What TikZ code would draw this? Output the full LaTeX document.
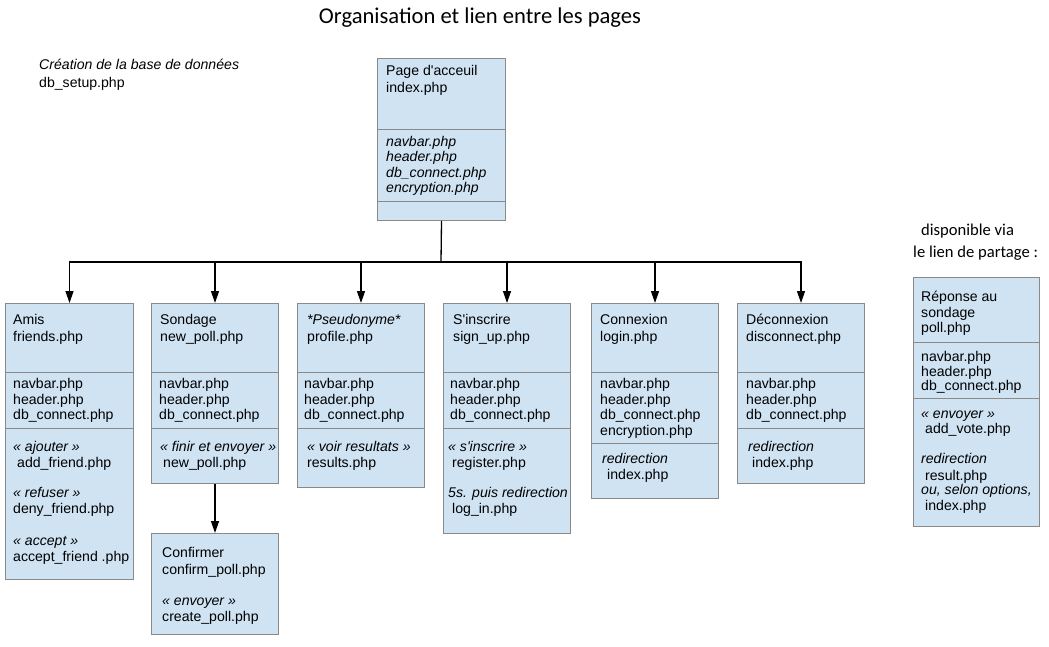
\documentclass[tikz,border=0pt]{standalone}
\usepackage{fontspec}
\setmainfont{Liberation Sans}
\newfontfamily\calib{Carlito}
\usetikzlibrary{arrows.meta}
\definecolor{boxfill}{RGB}{207,227,243}
\definecolor{boxline}{RGB}{138,138,138}
\newcommand\txtline[5][txt]{\node[#1] (#2) at (#3,{#4+5}) {#5};}
\newcommand\apos{\textquotesingle}
\begin{document}
\begin{tikzpicture}[x=1pt,y=-1pt,
 box/.style={draw=boxline, fill=boxfill, line width=1pt, inner sep=0pt, anchor=north west},
 divline/.style={draw=boxline, line width=1pt},
 txt/.style={font=\fontsize{14.1}{15.6}\selectfont, inner sep=0pt, anchor=base west},
 itx/.style={txt, font=\fontsize{14.1}{15.6}\selectfont\itshape},
 conn/.style={line width=1.3pt, black},
 arr/.style={conn, -{Triangle[width=8pt,length=12pt]}}]
\useasboundingbox[fill=white] (0,0) rectangle (1049,647);

% title and free texts
\node[font=\calib\fontsize{22.6}{26}\selectfont, inner sep=0pt] (title) at (480,18) {Organisation et lien entre les pages};
\txtline[itx]{dbc}{39}{65}{Création de la base de données}
\txtline{dbs}{39}{83}{db\_setup.php}
\node[font=\calib\fontsize{16.6}{19}\selectfont, inner sep=0pt, anchor=base west] (dispo1) at (921,235) {disponible via};
\node[font=\calib\fontsize{16.6}{19}\selectfont, inner sep=0pt, anchor=base west] (dispo2) at (913,257) {le lien de partage :};

% boxes
\node[box, minimum width=128pt, minimum height=162pt] (home) at (377,58) {};
\node[box, minimum width=128pt, minimum height=276pt] (amis) at (5,303) {};
\node[box, minimum width=127pt, minimum height=180pt] (sond) at (151,303) {};
\node[box, minimum width=127pt, minimum height=101pt] (conf) at (151,533) {};
\node[box, minimum width=127pt, minimum height=184pt] (pseudo) at (297,303) {};
\node[box, minimum width=127pt, minimum height=230pt] (inscr) at (443,303) {};
\node[box, minimum width=127pt, minimum height=195pt] (connex) at (591,303) {};
\node[box, minimum width=127pt, minimum height=180pt] (deconn) at (737,303) {};
\node[box, minimum width=126pt, minimum height=249pt] (rep) at (913,277) {};

% dividers
\draw[divline] (377,130) -- (505,130);
\draw[divline] (377,202) -- (505,202);
\draw[divline] (5,372) -- (133,372);
\draw[divline] (5,428) -- (133,428);
\draw[divline] (151,372) -- (278,372);
\draw[divline] (151,428) -- (278,428);
\draw[divline] (297,372) -- (424,372);
\draw[divline] (297,428) -- (424,428);
\draw[divline] (443,372) -- (570,372);
\draw[divline] (443,428) -- (570,428);
\draw[divline] (591,372) -- (718,372);
\draw[divline] (591,443) -- (718,443);
\draw[divline] (737,372) -- (864,372);
\draw[divline] (737,428) -- (864,428);
\draw[divline] (913,342) -- (1039,342);
\draw[divline] (913,398) -- (1039,398);

% connectors
\coordinate (hub) at (441,262);
\draw[conn] (home.south) -- (hub);
\draw[arr] (hub) -| (amis.north);
\draw[arr] (hub) -| (sond.north);
\draw[arr] (hub) -| (pseudo.north);
\draw[arr] (hub) -| (inscr.north);
\draw[arr] (hub) -| (connex.north);
\draw[arr] (hub) -| (deconn.north);
\draw[arr] (sond.south) -- (conf.north);

% home texts
\txtline{h1}{386}{71}{Page d\apos acceuil}
\txtline{h2}{386}{88}{index.php}
\txtline[itx]{h3}{386}{142}{navbar.php}
\txtline[itx]{h4}{386}{157}{header.php}
\txtline[itx]{h5}{386}{173}{db\_connect.php}
\txtline[itx]{h6}{386}{188}{encryption.php}

% amis
\txtline{a1}{13}{319}{Amis}
\txtline{a2}{13}{336}{friends.php}
\txtline{a3}{13}{383}{navbar.php}
\txtline{a4}{13}{399}{header.php}
\txtline{a5}{13}{414}{db\_connect.php}
\txtline[itx]{a6}{13}{446}{« ajouter »}
\txtline{a7}{17}{462}{add\_friend.php}
\txtline[itx]{a8}{13}{492}{« refuser »}
\txtline{a9}{13}{508}{deny\_friend.php}
\txtline[itx]{a10}{13}{540}{« accept »}
\txtline{a11}{13}{556}{accept\_friend .php}

% sondage
\txtline{s1}{160}{319}{Sondage}
\txtline{s2}{160}{336}{new\_poll.php}
\txtline{s3}{159}{383}{navbar.php}
\txtline{s4}{159}{399}{header.php}
\txtline{s5}{159}{414}{db\_connect.php}
\txtline[itx]{s6}{160}{446}{« finir et envoyer »}
\txtline{s7}{163}{462}{new\_poll.php}

% confirmer
\txtline{c1}{162}{552}{Confirmer}
\txtline{c2}{162}{569}{confirm\_poll.php}
\txtline[itx]{c3}{162}{600}{« envoyer »}
\txtline{c4}{162}{616}{create\_poll.php}

% pseudonyme
\txtline[itx]{p1}{307}{319}{*Pseudonyme*}
\txtline{p2}{307}{336}{profile.php}
\txtline{p3}{304}{383}{navbar.php}
\txtline{p4}{304}{399}{header.php}
\txtline{p5}{304}{414}{db\_connect.php}
\txtline[itx]{p6}{307}{446}{« voir resultats »}
\txtline{p7}{307}{462}{results.php}

% s'inscrire
\txtline{i1}{453}{319}{S\apos inscrire}
\txtline{i2}{453}{336}{sign\_up.php}
\txtline{i3}{450}{383}{navbar.php}
\txtline{i4}{450}{399}{header.php}
\txtline{i5}{450}{414}{db\_connect.php}
\txtline[itx]{i6}{448}{446}{« s\apos inscrire »}
\txtline{i7}{452}{462}{register.php}
\txtline[itx]{i8}{448}{492}{5s. puis redirection}
\txtline{i9}{452}{508}{log\_in.php}

% connexion
\txtline{k1}{600}{319}{Connexion}
\txtline{k2}{600}{336}{login.php}
\txtline{k3}{600}{383}{navbar.php}
\txtline{k4}{600}{399}{header.php}
\txtline{k5}{600}{414}{db\_connect.php}
\txtline{k6}{600}{430}{encryption.php}
\txtline[itx]{k7}{602}{458}{redirection}
\txtline{k8}{607}{474}{index.php}

% deconnexion
\txtline{d1}{746}{319}{Déconnexion}
\txtline{d2}{746}{336}{disconnect.php}
\txtline{d3}{746}{383}{navbar.php}
\txtline{d4}{746}{399}{header.php}
\txtline{d5}{746}{414}{db\_connect.php}
\txtline[itx]{d6}{748}{446}{redirection}
\txtline{d7}{752}{462}{index.php}

% reponse
\txtline{r1}{921}{296}{Réponse au}
\txtline{r2}{921}{312}{sondage}
\txtline{r3}{921}{327}{poll.php}
\txtline{r4}{921}{356}{navbar.php}
\txtline{r5}{921}{371}{header.php}
\txtline{r6}{921}{385}{db\_connect.php}
\txtline[itx]{r7}{921}{413}{« envoyer »}
\txtline{r8}{925}{428}{add\_vote.php}
\txtline[itx]{r9}{921}{458}{redirection}
\txtline{r10}{925}{475}{result.php}
\txtline[itx]{r11}{921}{489}{ou, selon options,}
\txtline{r12}{925}{505}{index.php}
\end{tikzpicture}
\end{document}
